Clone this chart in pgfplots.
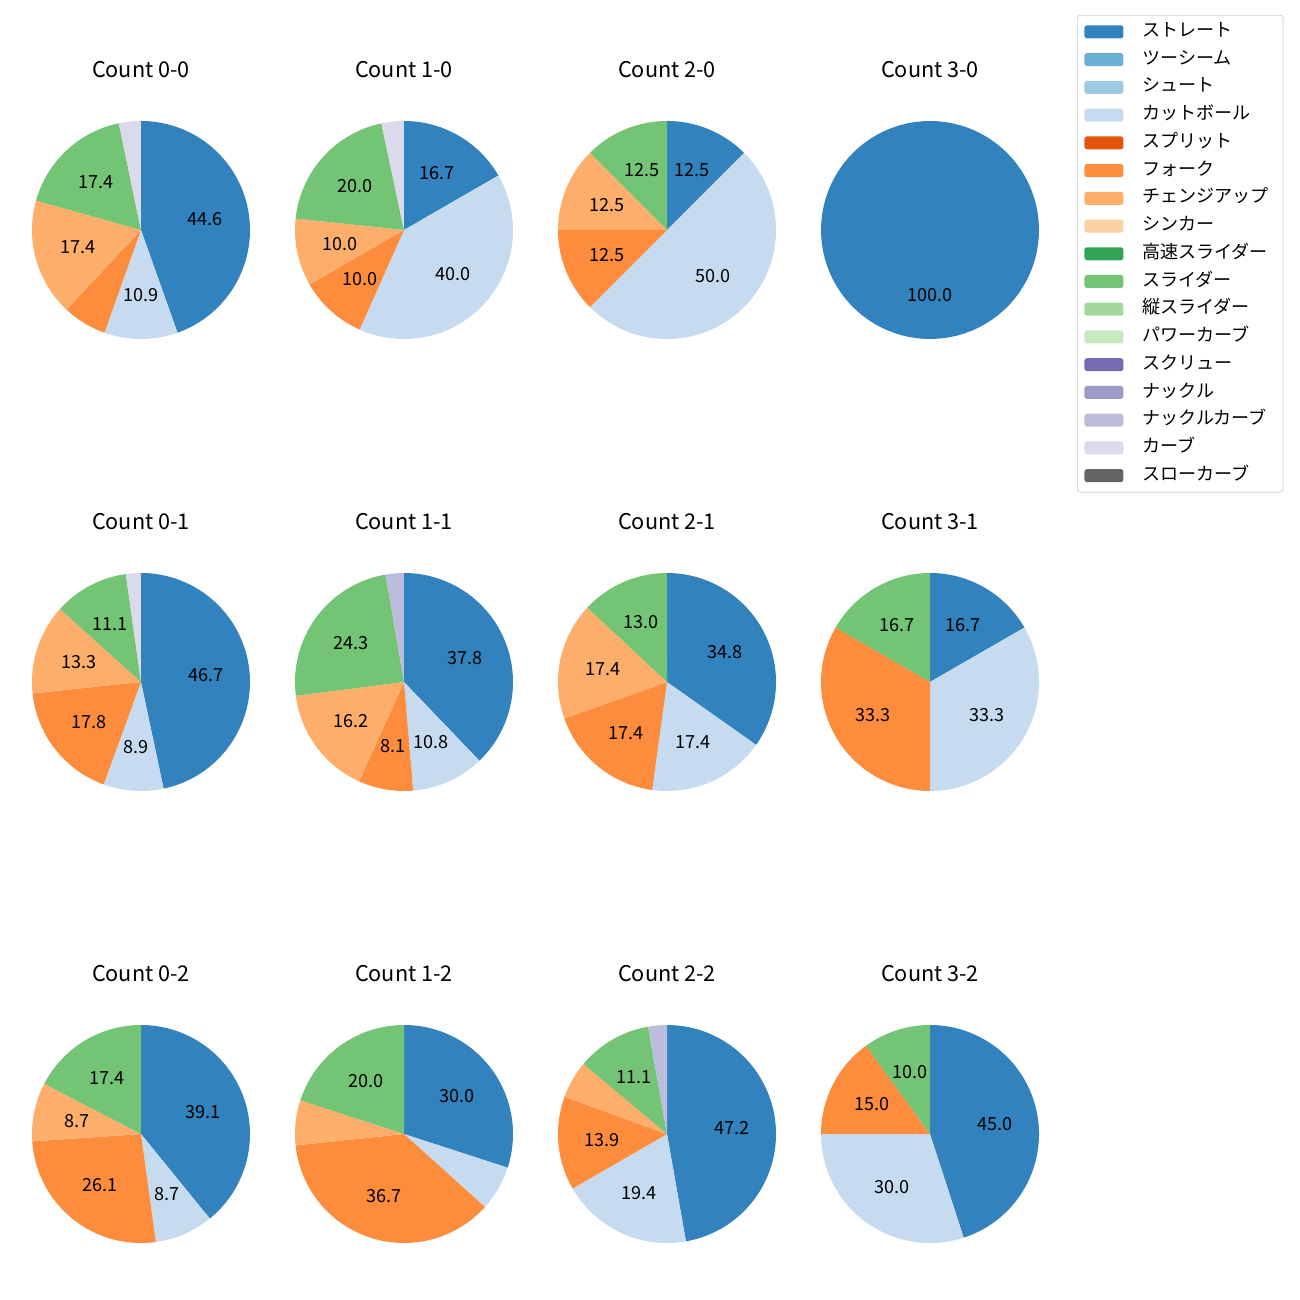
\documentclass[border=0pt]{standalone}
\usepackage{pgfplots}
\pgfplotsset{compat=1.18}
\usepackage{fontspec}
\setmainfont{Noto Sans CJK JP}
\definecolor{c1}{HTML}{3182BD}
\definecolor{c2}{HTML}{6BAED6}
\definecolor{c3}{HTML}{9ECAE1}
\definecolor{c4}{HTML}{C6DBEF}
\definecolor{c5}{HTML}{E6550D}
\definecolor{c6}{HTML}{FD8D3C}
\definecolor{c7}{HTML}{FDAE6B}
\definecolor{c8}{HTML}{FDD0A2}
\definecolor{c9}{HTML}{31A354}
\definecolor{c10}{HTML}{74C476}
\definecolor{c11}{HTML}{A1D99B}
\definecolor{c12}{HTML}{C7E9C0}
\definecolor{c13}{HTML}{756BB1}
\definecolor{c14}{HTML}{9E9AC8}
\definecolor{c15}{HTML}{BCBDDC}
\definecolor{c16}{HTML}{DADAEB}
\definecolor{c17}{HTML}{636363}
\newcommand\labfont{\fontsize{10}{12}\selectfont}
\newcommand\titfont{\fontsize{12}{14}\selectfont}
\newcommand\cum{0}
\newcommand\slice[3]{%
  \pgfmathsetmacro\aS{90-3.6*\cum}%
  \pgfmathsetmacro\newcum{\cum+#1}%
  \pgfmathsetmacro\aE{90-3.6*\newcum}%
  \pgfmathsetmacro\aM{(\aS+\aE)/2}%
  \pgfmathsetmacro\lx{0.6*cos(\aM)}%
  \pgfmathsetmacro\ly{0.6*sin(\aM)}%
  \edef\tmp{\noexpand\addplot[fill=#2, draw=none, domain=\aE:\aS, samples=90, variable=\noexpand\t] ({cos(\noexpand\t)},{sin(\noexpand\t)}) -- (axis cs:0,0) -- cycle;
    \noexpand\node[font=\noexpand\labfont, inner sep=0pt] at (axis cs:\lx,\ly) {#3};}%
  \tmp
  \xdef\cum{\newcum}%
}
\pgfplotsset{pieax/.style={hide axis, x=60.37pt, y=60.37pt, xmin=-1.1, xmax=1.1, ymin=-1.1, ymax=1.1,
  anchor=center, clip=false, no markers,
  title style={at={(0.5,1)}, anchor=center, yshift=16.7pt, font=\titfont, inner sep=0pt}}}
\begin{document}
\begin{tikzpicture}
\useasboundingbox (0,0) rectangle (720pt,-720pt);
% row 1
\begin{axis}[pieax, at={(78.09pt,-127.38pt)}, title={Count 0-0}]
\xdef\cum{0}
\slice{44.57}{c1}{44.6}
\slice{10.87}{c4}{10.9}
\slice{6.52}{c6}{}
\slice{17.39}{c7}{17.4}
\slice{17.39}{c10}{17.4}
\slice{3.26}{c16}{}
\end{axis}
\begin{axis}[pieax, at={(223.75pt,-127.38pt)}, title={Count 1-0}]
\xdef\cum{0}
\slice{16.67}{c1}{16.7}
\slice{40.00}{c4}{40.0}
\slice{10.00}{c6}{10.0}
\slice{10.00}{c7}{10.0}
\slice{20.00}{c10}{20.0}
\slice{3.33}{c16}{}
\end{axis}
\begin{axis}[pieax, at={(369.42pt,-127.38pt)}, title={Count 2-0}]
\xdef\cum{0}
\slice{12.5}{c1}{12.5}
\slice{50.0}{c4}{50.0}
\slice{12.5}{c6}{12.5}
\slice{12.5}{c7}{12.5}
\slice{12.5}{c10}{12.5}
\end{axis}
\begin{axis}[pieax, at={(515.08pt,-127.38pt)}, title={Count 3-0}]
\xdef\cum{0}
\slice{100}{c1}{100.0}
\end{axis}
% row 2
\begin{axis}[pieax, at={(78.09pt,-377.72pt)}, title={Count 0-1}]
\xdef\cum{0}
\slice{46.67}{c1}{46.7}
\slice{8.89}{c4}{8.9}
\slice{17.78}{c6}{17.8}
\slice{13.33}{c7}{13.3}
\slice{11.11}{c10}{11.1}
\slice{2.22}{c16}{}
\end{axis}
\begin{axis}[pieax, at={(223.75pt,-377.72pt)}, title={Count 1-1}]
\xdef\cum{0}
\slice{37.84}{c1}{37.8}
\slice{10.81}{c4}{10.8}
\slice{8.11}{c6}{8.1}
\slice{16.22}{c7}{16.2}
\slice{24.32}{c10}{24.3}
\slice{2.70}{c15}{}
\end{axis}
\begin{axis}[pieax, at={(369.42pt,-377.72pt)}, title={Count 2-1}]
\xdef\cum{0}
\slice{34.78}{c1}{34.8}
\slice{17.39}{c4}{17.4}
\slice{17.39}{c6}{17.4}
\slice{17.39}{c7}{17.4}
\slice{13.04}{c10}{13.0}
\end{axis}
\begin{axis}[pieax, at={(515.08pt,-377.72pt)}, title={Count 3-1}]
\xdef\cum{0}
\slice{16.67}{c1}{16.7}
\slice{33.33}{c4}{33.3}
\slice{33.33}{c6}{33.3}
\slice{16.67}{c10}{16.7}
\end{axis}
% row 3
\begin{axis}[pieax, at={(78.09pt,-628.06pt)}, title={Count 0-2}]
\xdef\cum{0}
\slice{39.13}{c1}{39.1}
\slice{8.70}{c4}{8.7}
\slice{26.09}{c6}{26.1}
\slice{8.70}{c7}{8.7}
\slice{17.39}{c10}{17.4}
\end{axis}
\begin{axis}[pieax, at={(223.75pt,-628.06pt)}, title={Count 1-2}]
\xdef\cum{0}
\slice{30.00}{c1}{30.0}
\slice{6.67}{c4}{}
\slice{36.67}{c6}{36.7}
\slice{6.67}{c7}{}
\slice{20.00}{c10}{20.0}
\end{axis}
\begin{axis}[pieax, at={(369.42pt,-628.06pt)}, title={Count 2-2}]
\xdef\cum{0}
\slice{47.22}{c1}{47.2}
\slice{19.44}{c4}{19.4}
\slice{13.89}{c6}{13.9}
\slice{5.56}{c7}{}
\slice{11.11}{c10}{11.1}
\slice{2.78}{c15}{}
\end{axis}
\begin{axis}[pieax, at={(515.08pt,-628.06pt)}, title={Count 3-2}]
\xdef\cum{0}
\slice{45.0}{c1}{45.0}
\slice{30.0}{c4}{30.0}
\slice{15.0}{c6}{15.0}
\slice{10.0}{c10}{10.0}
\end{axis}
% legend
\begin{axis}[at={(596.5pt,-8.31pt)}, anchor=north west, hide axis, scale only axis,
  width=10pt, height=10pt, xmin=0, xmax=1, ymin=0, ymax=1,
  legend cell align=left,
  legend image code/.code={\fill[#1] (0pt,-3.6pt) rectangle (21.6pt,3.6pt);},
  legend style={at={(0,1)}, anchor=north west, draw=black!20, fill=white, rounded corners=1.5pt,
    font=\labfont, inner xsep=3.9pt, inner ysep=4pt, row sep=5.06pt,
    nodes={inner sep=0pt, text height=7.7pt, text depth=2.6pt, text width=74pt, align=left},
    /tikz/every odd column/.append style={column sep=10.5pt}}]
\addlegendimage{fill=c1, draw=none}\addlegendentry{ストレート}
\addlegendimage{fill=c2, draw=none}\addlegendentry{ツーシーム}
\addlegendimage{fill=c3, draw=none}\addlegendentry{シュート}
\addlegendimage{fill=c4, draw=none}\addlegendentry{カットボール}
\addlegendimage{fill=c5, draw=none}\addlegendentry{スプリット}
\addlegendimage{fill=c6, draw=none}\addlegendentry{フォーク}
\addlegendimage{fill=c7, draw=none}\addlegendentry{チェンジアップ}
\addlegendimage{fill=c8, draw=none}\addlegendentry{シンカー}
\addlegendimage{fill=c9, draw=none}\addlegendentry{高速スライダー}
\addlegendimage{fill=c10, draw=none}\addlegendentry{スライダー}
\addlegendimage{fill=c11, draw=none}\addlegendentry{縦スライダー}
\addlegendimage{fill=c12, draw=none}\addlegendentry{パワーカーブ}
\addlegendimage{fill=c13, draw=none}\addlegendentry{スクリュー}
\addlegendimage{fill=c14, draw=none}\addlegendentry{ナックル}
\addlegendimage{fill=c15, draw=none}\addlegendentry{ナックルカーブ}
\addlegendimage{fill=c16, draw=none}\addlegendentry{カーブ}
\addlegendimage{fill=c17, draw=none}\addlegendentry{スローカーブ}
\end{axis}
\end{tikzpicture}
\end{document}
